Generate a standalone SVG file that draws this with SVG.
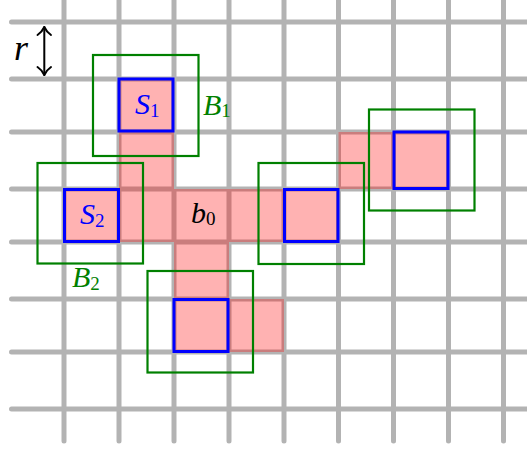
<svg xmlns="http://www.w3.org/2000/svg" width="527" height="454" viewBox="0 0 527 454">
<style>
.grid line{stroke:#b3b3b3;stroke-width:5;stroke-linecap:round}
.cell{fill:#ff0000;fill-opacity:0.3;stroke:none}
.seed{fill:none;stroke:#0000ff;stroke-width:3}
.box{fill:none;stroke:#008000;stroke-width:2.2}
.m{font-family:"Liberation Serif","Times New Roman",serif;font-style:italic;font-size:30px}
.sub{font-style:normal;font-size:19px}
</style>
<rect width="527" height="454" fill="#ffffff"/>
<g class="grid">
<line x1="64" y1="-5" x2="64" y2="441"/>
<line x1="119" y1="-5" x2="119" y2="441"/>
<line x1="174" y1="-5" x2="174" y2="441"/>
<line x1="229" y1="-5" x2="229" y2="441"/>
<line x1="284" y1="-5" x2="284" y2="441"/>
<line x1="338.5" y1="-5" x2="338.5" y2="441"/>
<line x1="393.5" y1="-5" x2="393.5" y2="441"/>
<line x1="448.5" y1="-5" x2="448.5" y2="441"/>
<line x1="503.5" y1="-5" x2="503.5" y2="441"/>
<line x1="11.5" y1="22" x2="535" y2="22"/>
<line x1="11.5" y1="79" x2="535" y2="79"/>
<line x1="11.5" y1="132" x2="535" y2="132"/>
<line x1="11.5" y1="189" x2="535" y2="189"/>
<line x1="11.5" y1="242" x2="535" y2="242"/>
<line x1="11.5" y1="299" x2="535" y2="299"/>
<line x1="11.5" y1="352" x2="535" y2="352"/>
<line x1="11.5" y1="409" x2="535" y2="409"/>
</g>
<g id="cells">
<rect class="cell" x="119" y="79" width="55" height="53"/>
<rect class="cell" x="119" y="132" width="55" height="57"/>
<rect class="cell" x="64" y="189" width="55" height="53"/>
<rect class="cell" x="119" y="189" width="55" height="53"/>
<rect class="cell" x="174" y="189" width="55" height="53"/>
<rect class="cell" x="229" y="189" width="55" height="53"/>
<rect class="cell" x="284" y="189" width="54.5" height="53"/>
<rect class="cell" x="174" y="242" width="55" height="57"/>
<rect class="cell" x="174" y="299" width="55" height="53"/>
<rect class="cell" x="229" y="299" width="55" height="53"/>
<rect class="cell" x="338.5" y="132" width="55" height="57"/>
<rect class="cell" x="393.5" y="132" width="55" height="57"/>
</g>
<g id="S1">
<rect class="seed" x="119" y="79" width="54" height="52"/>
<text class="m" x="135" y="114" fill="#0000ff">S<tspan class="sub" dy="3">1</tspan></text>
</g>
<g id="B1">
<rect class="box" x="93" y="55" width="105.5" height="101"/>
<text class="m" x="203" y="115" fill="#008000">B<tspan class="sub" dy="2">1</tspan></text>
</g>
<g id="S2">
<rect class="seed" x="64.5" y="189.5" width="54" height="52"/>
<text class="m" x="80" y="224" fill="#0000ff">S<tspan class="sub" dy="3">2</tspan></text>
</g>
<g id="B2">
<rect class="box" x="37.5" y="163" width="105.5" height="100.5"/>
<text class="m" x="72" y="287" fill="#008000">B<tspan class="sub" dy="3">2</tspan></text>
</g>
<g id="b0">
<text class="m" x="191" y="223" fill="#000000">b<tspan class="sub" dy="2">0</tspan></text>
</g>
<g id="S3">
<rect class="seed" x="284.5" y="189.5" width="53.5" height="52"/>
</g>
<g id="B3">
<rect class="box" x="258.5" y="163" width="105.5" height="101"/>
</g>
<g id="S4">
<rect class="seed" x="394" y="132" width="54" height="56.5"/>
</g>
<g id="B4">
<rect class="box" x="369" y="109.5" width="105.5" height="101"/>
</g>
<g id="S5">
<rect class="seed" x="174" y="299.5" width="54" height="52"/>
</g>
<g id="B5">
<rect class="box" x="147.5" y="271" width="105.5" height="101.5"/>
</g>
<g id="r-scale">
<text class="m" x="14" y="60" style="font-size:36px" fill="#000000">r</text>
<g fill="none" stroke="#000000" stroke-width="2" stroke-linecap="round" stroke-linejoin="round">
<line x1="44.3" y1="27" x2="44.3" y2="75"/>
<path d="M37.5,35 Q42,32 44.3,27 Q46.6,32 51,35"/>
<path d="M37.5,67 Q42,70 44.3,75 Q46.6,70 51,67"/>
</g>
</g>
</svg>
